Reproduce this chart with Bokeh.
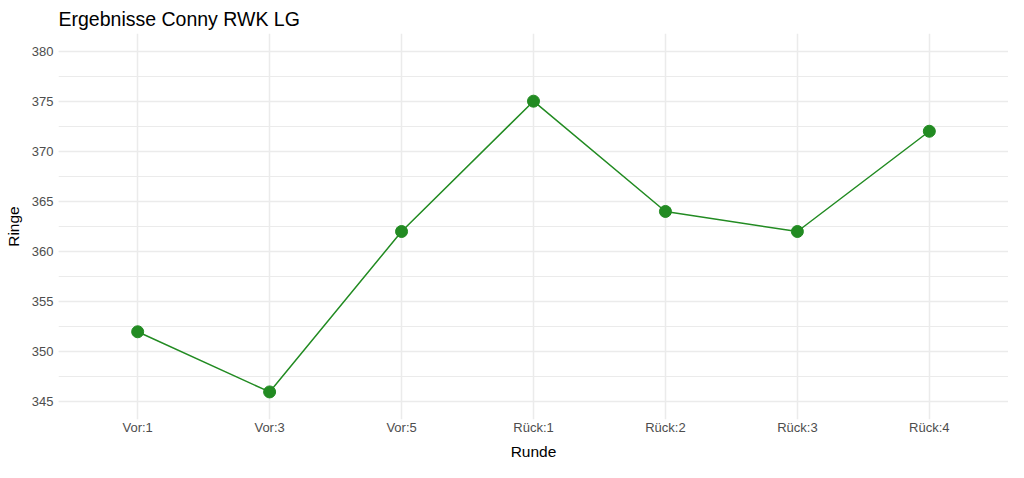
from bokeh.plotting import figure
from bokeh.models import FactorRange, Range1d, SingleIntervalTicker, ColumnDataSource
from bokeh.embed import file_html
from bokeh.resources import INLINE

runden = ["Vor:1", "Vor:3", "Vor:5", "Rück:1", "Rück:2", "Rück:3", "Rück:4"]
ringe = [352, 346, 362, 375, 364, 362, 372]

src = ColumnDataSource(dict(runde=runden, ringe=ringe))

FONT = "Liberation Sans"
GREEN = "#228B22"

p = figure(width=1008, height=462, output_backend="svg", toolbar_location=None,
           x_range=FactorRange(factors=runden, range_padding=0.1, range_padding_units="absolute"),
           y_range=Range1d(343.25, 381.75),
           title="Ergebnisse Conny RWK LG",
           min_border_left=58, min_border_right=0, min_border_top=33, min_border_bottom=0)

p.line("runde", "ringe", source=src, color=GREEN, line_width=1.5)
p.scatter("runde", "ringe", source=src, size=12, color=GREEN)

p.outline_line_color = None
p.background_fill_color = "white"
p.border_fill_color = "white"

p.title.text_font = FONT
p.title.text_font_size = "19.5px"
p.title.text_font_style = "normal"
p.title.text_color = "black"
p.title.offset = 0
p.title.standoff = 8

p.yaxis.ticker = SingleIntervalTicker(interval=5, num_minor_ticks=2)
for ax in (p.xaxis, p.yaxis):
    ax.axis_line_color = None
    ax.major_tick_line_color = None
    ax.minor_tick_line_color = None
    ax.major_tick_out = 0
    ax.major_tick_in = 0
    ax.minor_tick_out = 0
    ax.minor_tick_in = 0
    ax.major_label_text_font = FONT
    ax.major_label_text_font_size = "13px"
    ax.major_label_text_color = "#4d4d4d"
    ax.axis_label_text_font = FONT
    ax.axis_label_text_font_size = "15.5px"
    ax.axis_label_text_font_style = "normal"
    ax.axis_label_text_color = "black"
p.xaxis.axis_label = "Runde"
p.yaxis.axis_label = "Ringe"
p.xaxis.major_label_standoff = 0
p.yaxis.major_label_standoff = 5
p.xaxis.axis_label_standoff = 5
p.yaxis.axis_label_standoff = 7

p.xgrid.grid_line_color = "#ebebeb"
p.xgrid.grid_line_width = 1.5
p.ygrid.grid_line_color = "#ebebeb"
p.ygrid.grid_line_width = 1.5
p.ygrid.minor_grid_line_color = "#ebebeb"
p.ygrid.minor_grid_line_width = 1

open("out.html", "w").write(file_html(p, INLINE))
